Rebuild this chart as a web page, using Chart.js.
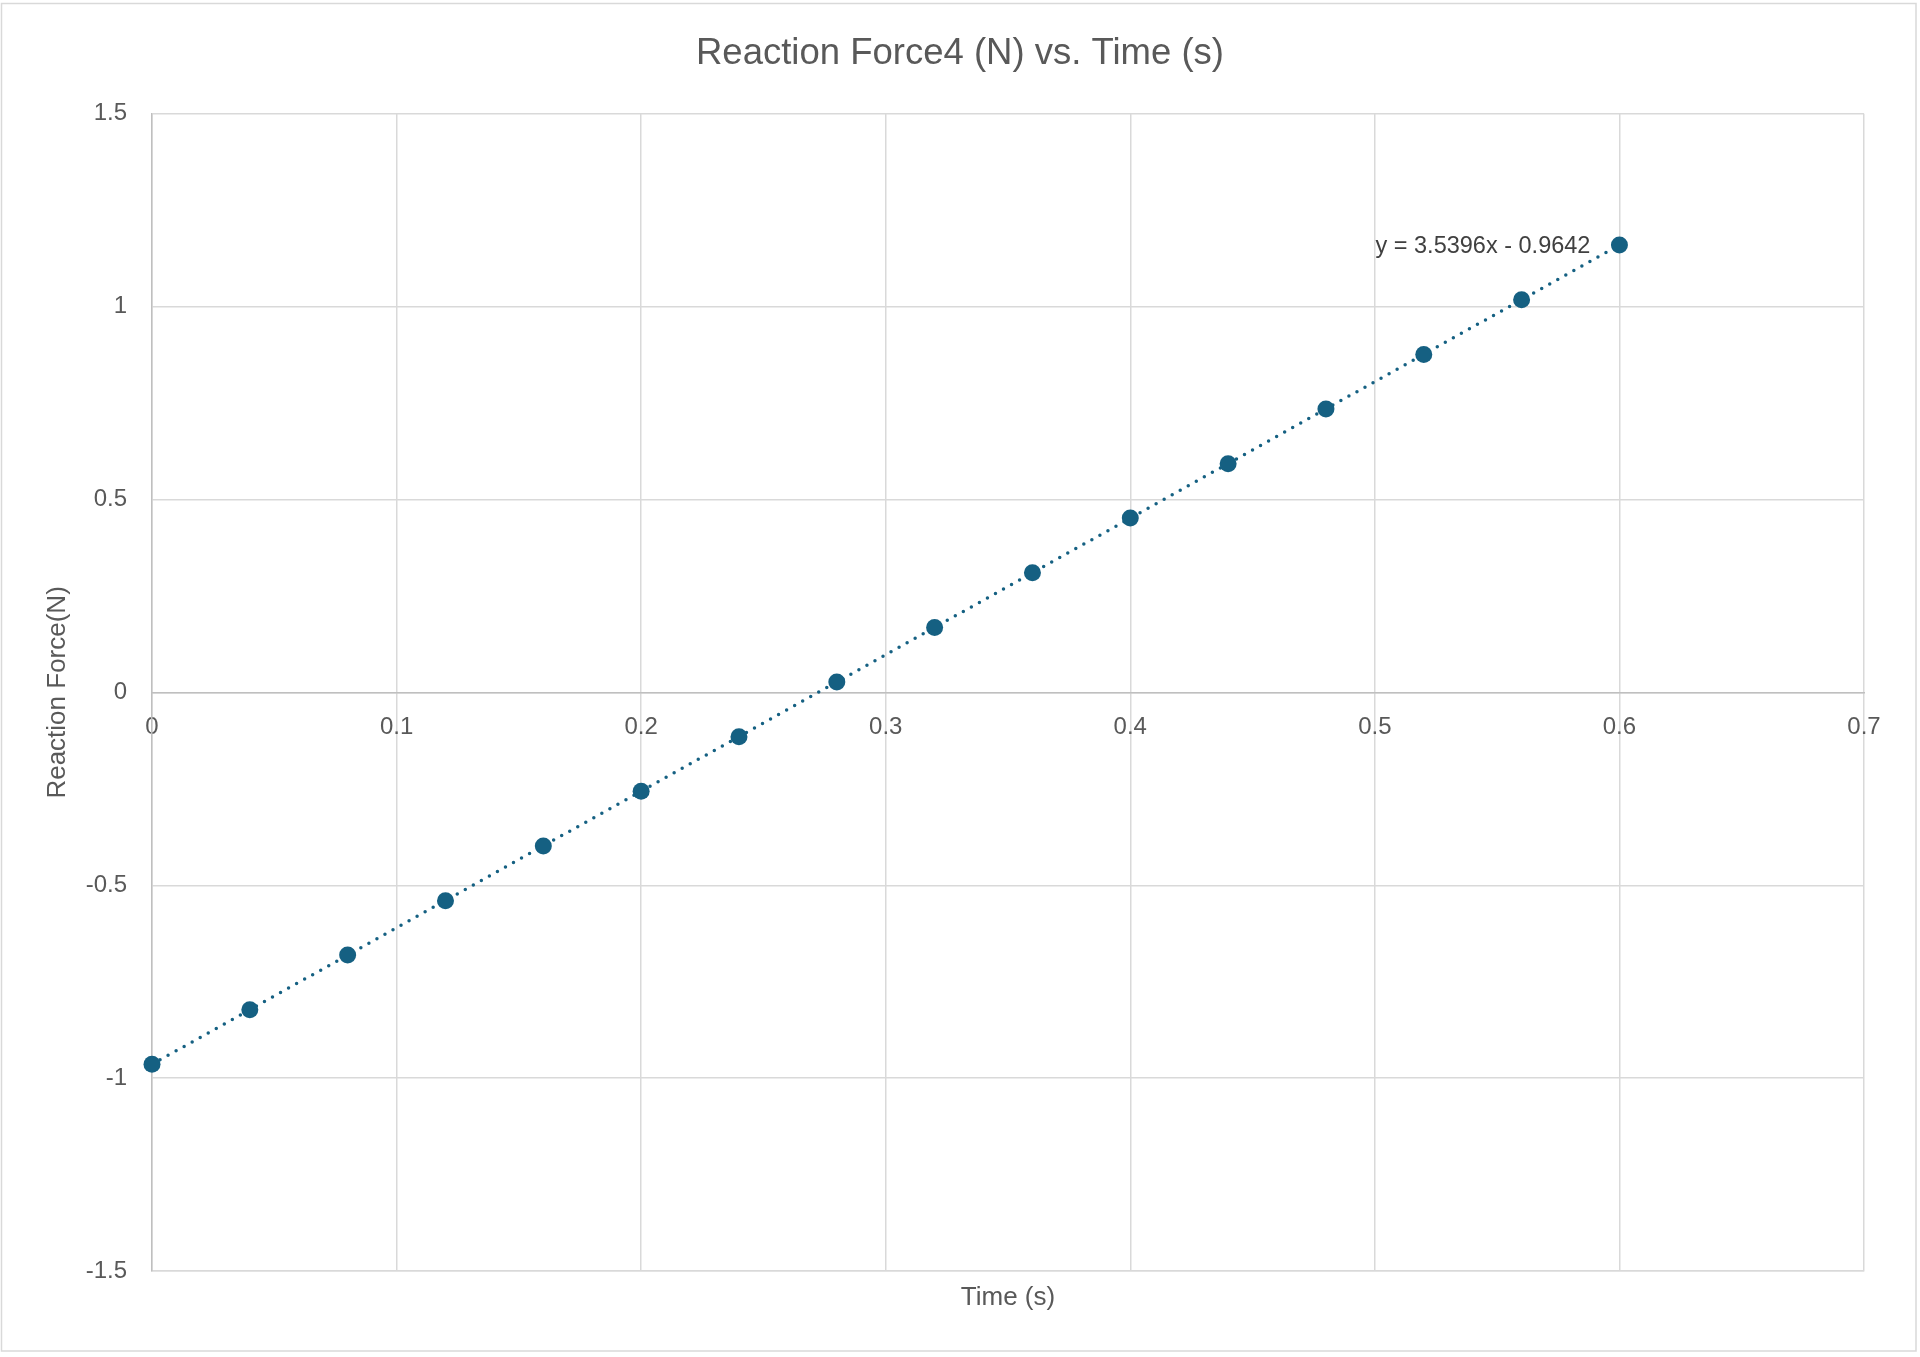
<!DOCTYPE html>
<html>
<head>
<meta charset="utf-8">
<title>Reaction Force4 (N) vs. Time (s)</title>
<script src="https://cdn.jsdelivr.net/npm/chart.js@4.4.1/dist/chart.umd.min.js"></script>
<style>
  html, body { margin: 0; padding: 0; background: #fff; }
  canvas { display: block; }
</style>
</head>
<body>
<canvas id="forceChart" width="1920" height="1357"></canvas>
<script>
// time (s) and measured reaction force (N)
const times = [0, 0.04, 0.08, 0.12, 0.16, 0.2, 0.24, 0.28, 0.32, 0.36, 0.4, 0.44, 0.48, 0.52, 0.56, 0.6];
const forces = [-0.964, -0.823, -0.681, -0.540, -0.398, -0.256, -0.115, 0.027, 0.168, 0.310, 0.452, 0.593, 0.735, 0.876, 1.018, 1.160];

// linear trendline end points, as labelled on the chart
const trendX = [0, 0.6];
const trendY = [-0.9642, 1.1596];
const trendLabel = 'y = 3.5396x - 0.9642';

const xTicks = [0, 0.1, 0.2, 0.3, 0.4, 0.5, 0.6, 0.7];
const yTicks = [-1.5, -1, -0.5, 0, 0.5, 1, 1.5];

const blue = '#156082';
const gridColor = '#d9d9d9';
const textColor = '#595959';
const fontFamily = '"Liberation Sans", Arial, sans-serif';

const points = times.map((t, i) => ({ x: t, y: forces[i] }));
const trend = trendX.map((t, i) => ({ x: t, y: trendY[i] }));

// white background + outer chart border
const frame = {
    id: 'frame',
    beforeDraw(chart) {
        const c = chart.ctx;
        c.save();
        c.fillStyle = '#fff';
        c.fillRect(0, 0, chart.width, chart.height);
        c.strokeStyle = gridColor;
        c.lineWidth = 1.5;
        c.strokeRect(1.5, 3.5, 1914.5, 1347.5);
        c.restore();
    }
};

// trendline equation next to the last point
const equation = {
    id: 'equation',
    afterDatasetsDraw(chart) {
        const c = chart.ctx;
        const xs = chart.scales.x;
        const ys = chart.scales.y;
        c.save();
        c.font = '23.5px ' + fontFamily;
        c.fillStyle = '#404040';
        c.textAlign = 'right';
        c.textBaseline = 'middle';
        c.fillText(trendLabel, xs.getPixelForValue(trendX[1]) - 29, ys.getPixelForValue(trendY[1]) + 1);
        c.restore();
    }
};

new Chart(document.getElementById('forceChart'), {
    type: 'scatter',
    data: {
        datasets: [{
            label: 'Reaction Force4 (N)',
            data: points,
            backgroundColor: blue,
            borderColor: blue,
            pointRadius: 8.5,
            pointBorderWidth: 0,
            showLine: false,
            clip: false
        }, {
            label: 'Linear trend',
            data: trend,
            showLine: true,
            borderColor: blue,
            borderWidth: 3.5,
            borderDash: [0, 9.2],
            borderCapStyle: 'round',
            pointRadius: 0,
            fill: false
        }]
    },
    options: {
        responsive: false,
        devicePixelRatio: 1,
        animation: false,
        layout: { padding: 0 },
        plugins: {
            legend: { display: false },
            tooltip: { enabled: false },
            title: {
                display: true,
                text: 'Reaction Force4 (N) vs. Time (s)',
                color: textColor,
                font: { family: fontFamily, size: 36.5, weight: 'normal' },
                padding: { top: 32, bottom: 38 }
            }
        },
        scales: {
            x: {
                type: 'linear',
                position: 'bottom',
                min: 0,
                max: 0.7,
                afterBuildTicks: s => { s.ticks = xTicks.map(v => ({ value: v })); },
                ticks: { display: false },
                grid: { color: gridColor, lineWidth: 1.5, drawTicks: false },
                border: { color: gridColor, width: 1.5 },
                title: {
                    display: true,
                    text: 'Time (s)',
                    color: textColor,
                    font: { family: fontFamily, size: 26 },
                    padding: { top: 0, bottom: 44 }
                },
                afterFit: s => { s.height = 86; }
            },
            xZero: {
                type: 'linear',
                axis: 'x',
                position: { y: 0 },
                min: 0,
                max: 0.7,
                afterBuildTicks: s => { s.ticks = xTicks.map(v => ({ value: v })); },
                ticks: {
                    color: textColor,
                    font: { family: fontFamily, size: 24 },
                    padding: 21,
                    maxRotation: 0,
                    autoSkip: false,
                    callback: v => String(v)
                },
                grid: { display: false, drawTicks: false },
                border: { color: '#bfbfbf', width: 1.5 }
            },
            y: {
                type: 'linear',
                position: 'left',
                min: -1.5,
                max: 1.5,
                afterBuildTicks: s => { s.ticks = yTicks.map(v => ({ value: v })); },
                ticks: {
                    color: textColor,
                    font: { family: fontFamily, size: 24 },
                    padding: 25,
                    callback: v => String(v)
                },
                grid: { color: gridColor, lineWidth: 1.5, drawTicks: false },
                border: { color: '#bfbfbf', width: 1.5 },
                title: {
                    display: true,
                    text: 'Reaction Force(N)',
                    color: textColor,
                    font: { family: fontFamily, size: 26 },
                    padding: { top: 42, bottom: 0 }
                },
                afterFit: s => { s.width = 152; }
            },
            // empty right margin so the title stays centred on the whole chart
            yRight: {
                type: 'linear',
                axis: 'y',
                position: 'right',
                min: -1.5,
                max: 1.5,
                ticks: { display: false },
                grid: { display: false, drawTicks: false },
                border: { display: false },
                afterFit: s => { s.width = 56; }
            }
        }
    },
    plugins: [frame, equation]
});
</script>
</body>
</html>
